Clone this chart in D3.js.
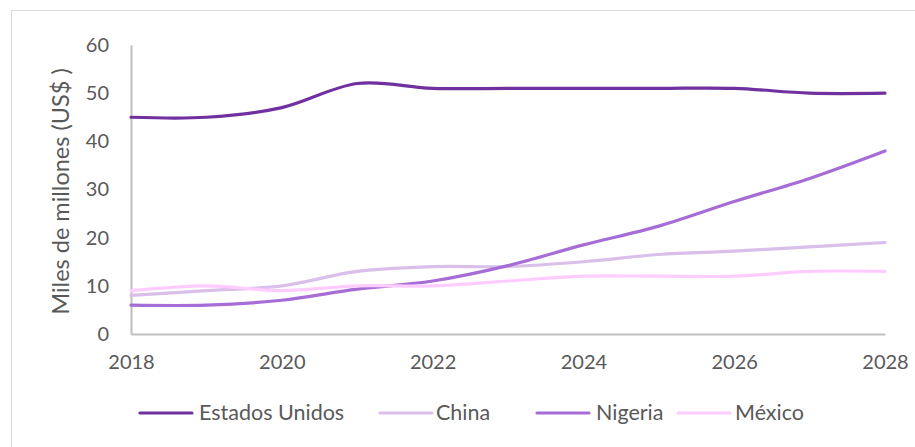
<!DOCTYPE html>
<html>
<head>
<meta charset="utf-8">
<script src="https://cdn.jsdelivr.net/npm/d3@7"></script>
<style>
  html, body { margin: 0; padding: 0; background: #fff; }
  svg { display: block; }
  text { font-family: Lato, "Open Sans", sans-serif; fill: #595959; }
</style>
</head>
<body>
<svg id="chart" width="915" height="447"></svg>
<script>
// Years on the horizontal axis
const years = [2018, 2019, 2020, 2021, 2022, 2023, 2024, 2025, 2026, 2027, 2028];
const xTickLabels = [2018, 2020, 2022, 2024, 2026, 2028];
const yTickLabels = [0, 10, 20, 30, 40, 50, 60];

// Series, in miles de millones de US$
const estadosUnidos = [45, 45, 47, 52, 51, 51, 51, 51, 51, 50, 50];
const china         = [8, 9, 10, 13, 14, 14, 15, 16.5, 17.2, 18.1, 19];
const nigeria       = [6, 6, 7, 9.3, 11, 14.2, 18.5, 22.4, 27.5, 32.3, 38];
const mexico        = [9, 10, 9, 10, 10, 11, 12, 12, 12, 13, 13];

const seriesNames  = ["Estados Unidos", "China", "Nigeria", "México"];
const seriesValues = [estadosUnidos, china, nigeria, mexico];
const seriesColors = ["#7030A0", "#D9BFEA", "#A66DD6", "#FFCCFF"];

const svg = d3.select("#chart");

// outer frame
svg.append("rect")
  .attr("x", 11.5).attr("y", 10.5)
  .attr("width", 915).attr("height", 447)
  .attr("fill", "none").attr("stroke", "#d9d9d9");

const plot = { left: 131, right: 885, top: 45, bottom: 334 };

const x = d3.scaleLinear().domain([2018, 2028]).range([plot.left, plot.right]);
const y = d3.scaleLinear().domain([0, 60]).range([plot.bottom, plot.top]);

// axes
const xAxis = d3.axisBottom(x).tickValues(xTickLabels).tickFormat(d3.format("d")).tickSize(0).tickPadding(21);
const yAxis = d3.axisLeft(y).tickValues(yTickLabels).tickSize(0).tickPadding(22);

const gx = svg.append("g").attr("transform", `translate(0,${plot.bottom})`).call(xAxis);
const gy = svg.append("g").attr("transform", `translate(${plot.left},0)`).call(yAxis);

[gx, gy].forEach(g => {
  g.select(".domain").attr("stroke", "#bfbfbf").attr("stroke-width", 2);
  g.selectAll("text").style("font-size", "20px").attr("fill", "#595959").style("font-family", "Lato, sans-serif");
});

// y-axis title
svg.append("text")
  .attr("transform", `translate(69,${(plot.top + plot.bottom) / 2 + 2}) rotate(-90)`)
  .attr("text-anchor", "middle")
  .style("font-size", "23.5px")
  .text("Miles de millones (US$ )");

// smoothed series lines
const line = d3.line()
  .x((d, i) => x(years[i]))
  .y(d => y(d))
  .curve(d3.curveCardinal.tension(0));

seriesValues.forEach((vals, k) => {
  svg.append("path")
    .datum(vals)
    .attr("d", line)
    .attr("fill", "none")
    .attr("stroke", seriesColors[k])
    .attr("stroke-width", 3.2)
    .attr("stroke-linecap", "round");
});

// legend
const legendItems = [
  { x0: 140, tx: 199 },
  { x0: 380, tx: 436 },
  { x0: 537, tx: 596 },
  { x0: 678, tx: 735 }
];
const ly = 413;
seriesNames.forEach((name, k) => {
  const it = legendItems[k];
  svg.append("line")
    .attr("x1", it.x0).attr("x2", it.x0 + 52)
    .attr("y1", ly).attr("y2", ly)
    .attr("stroke", seriesColors[k])
    .attr("stroke-width", 3.2)
    .attr("stroke-linecap", "round");
  svg.append("text")
    .attr("x", it.tx).attr("y", ly + 7)
    .style("font-size", "21.5px")
    .text(name);
});
</script>
</body>
</html>
